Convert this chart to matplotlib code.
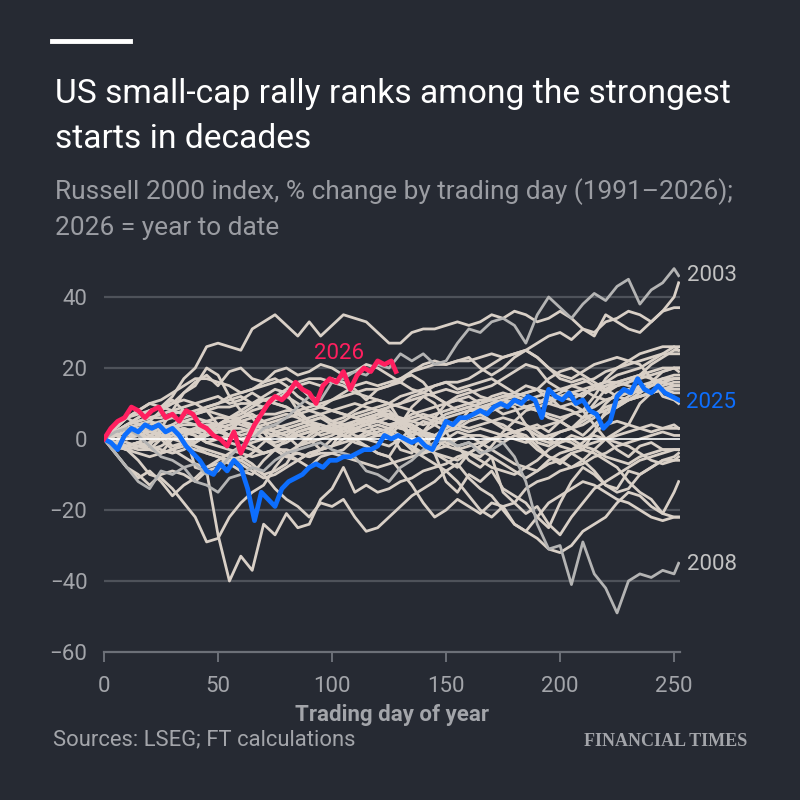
import matplotlib
matplotlib.use("Agg")
import matplotlib.pyplot as plt
from matplotlib.lines import Line2D

# trading-day grid for the background years (every 5 days + last day)
days5 = list(range(0, 251, 5)) + [252]

# Russell 2000, % change YTD (approximate)
y1991 = [0, 2, 4, 6, 8, 9, 12, 17, 20, 26,
         27, 26, 25, 31, 33, 35, 32, 29, 33, 29,
         32, 35, 34, 33, 30, 27, 27, 30, 31, 31,
         32, 33, 32, 33, 35, 34, 36, 35, 33, 34,
         36, 34, 31, 29, 35, 33, 31, 30, 33, 36,
         40, 44]
y1992 = [0, 3, 6, 7, 8, 9, 10, 11, 10, 8,
         7, 6, 5, 4, 3, 2, 1, 3, 4, 3,
         2, 3, 1, 0, -1, -2, 0, 1, 2, 0,
         -2, -3, -2, -1, 0, -1, 1, 0, 0, 1,
         2, 3, 1, 4, 7, 9, 11, 12, 13, 15,
         16, 16]
y1993 = [0, 1, 2, 3, 3, 4, 2, 0, -1, 1,
         2, 3, 3, 2, 0, -1, 0, 1, 2, 3,
         3, 4, 3, 4, 5, 4, 5, 5, 6, 7,
         8, 9, 10, 11, 11, 12, 12, 13, 14, 13,
         14, 15, 14, 12, 11, 12, 13, 15, 16, 17,
         17, 17]
y1994 = [0, 1, 2, 3, 3, 4, 3, 2, 1, -1,
         -2, -3, -4, -5, -4, -3, -3, -4, -5, -4,
         -4, -5, -6, -7, -8, -7, -6, -5, -4, -3,
         -2, 0, 1, 1, 0, 1, 0, -1, 0, -1,
         -1, 0, -2, -3, -5, -6, -7, -5, -4, -3,
         -3, -3]
y1995 = [0, 0, -1, -2, -1, 0, 1, 2, 3, 4,
         4, 5, 5, 6, 7, 7, 8, 8, 9, 10,
         11, 12, 13, 14, 14, 15, 17, 19, 20, 21,
         21, 22, 22, 23, 24, 23, 24, 25, 23, 20,
         18, 17, 19, 21, 22, 23, 22, 24, 25, 26,
         26, 26]
y1996 = [0, -1, -2, -1, 1, 2, 3, 4, 4, 5,
         6, 6, 7, 9, 11, 12, 14, 16, 17, 17,
         16, 15, 13, 12, 11, 10, 5, 1, -2, 1,
         3, 5, 6, 7, 8, 9, 10, 9, 8, 7,
         6, 7, 8, 9, 11, 12, 11, 12, 13, 14,
         15, 15]
y1997 = [0, 1, 2, 3, 2, 1, 0, -1, -2, -3,
         -4, -5, -6, -8, -10, -9, -7, -2, 1, 3,
         4, 5, 7, 8, 9, 10, 12, 13, 14, 15,
         16, 16, 17, 19, 21, 23, 24, 25, 23, 20,
         17, 16, 17, 15, 14, 16, 17, 18, 19, 20,
         20, 20]
y1998 = [0, -2, -3, -2, -1, 2, 4, 6, 7, 8,
         9, 9, 10, 10, 11, 10, 9, 7, 5, 4,
         3, 2, 3, 2, 1, 2, 0, -3, -5, -7,
         -9, -12, -16, -20, -22, -19, -18, -21, -19, -24,
         -27, -22, -18, -14, -12, -10, -8, -6, -5, -4,
         -3, -3]
y1999 = [0, 1, 2, 3, 1, 0, -3, -5, -7, -8,
         -7, -6, -6, -4, -1, 2, 3, 4, 5, 6,
         5, 6, 8, 10, 11, 10, 9, 8, 6, 5,
         4, 3, 2, 3, 2, 1, 2, 3, 1, 0,
         2, 3, 5, 7, 8, 9, 11, 13, 16, 19,
         20, 20]
y2000 = [0, -3, -2, -1, -2, 3, 8, 13, 15, 20,
         18, 12, 8, 6, 2, -2, -4, -6, -8, -5,
         -4, -3, 0, 2, 3, 2, 0, -3, -4, -1,
         2, 3, 5, 6, 5, 4, 2, 1, -2, -5,
         -7, -4, -6, -9, -13, -15, -14, -10, -8, -6,
         -5, -4]
y2001 = [0, 2, 3, 4, 5, 4, 2, 0, -2, -4,
         -5, -7, -9, -10, -6, -3, 0, 2, 3, 3,
         4, 3, 4, 5, 5, 4, 3, 2, 1, 0,
         -1, -2, -1, -3, -5, -15, -18, -14, -12, -11,
         -9, -8, -7, -5, -4, -2, -1, 0, 1, 2,
         1, 1]
y2002 = [0, -1, -2, -1, -2, -3, -4, -3, -1, 1,
         3, 4, 5, 4, 5, 6, 7, 6, 4, 3,
         2, 1, 0, -2, -4, -5, -9, -13, -18, -22,
         -20, -17, -19, -21, -18, -19, -24, -26, -28, -31,
         -32, -30, -26, -24, -22, -18, -15, -16, -19, -21,
         -22, -22]
y2003 = [0, 2, 3, 1, -2, -5, -6, -8, -7, -10,
         -9, -5, -2, 0, 3, 4, 6, 9, 12, 11,
         16, 17, 19, 18, 21, 20, 24, 22, 24, 21,
         22, 27, 31, 30, 33, 34, 32, 27, 35, 40,
         37, 34, 38, 41, 39, 43, 45, 38, 42, 44,
         48, 46]
y2004 = [0, 2, 3, 4, 4, 5, 6, 5, 6, 5,
         4, 6, 6, 7, 5, 2, 1, -2, -1, 0,
         1, 3, 4, 5, 6, 7, 4, 0, -2, -4,
         -5, -6, -4, -2, 0, 1, 2, 3, 3, 4,
         5, 3, 4, 6, 10, 13, 14, 13, 15, 16,
         17, 17]
y2005 = [0, -2, -3, -4, -5, -4, -3, -2, -3, -4,
         -5, -6, -7, -9, -11, -10, -8, -6, -4, -3,
         -2, -1, 0, 1, 2, 3, 5, 6, 7, 6,
         5, 4, 3, 4, 5, 6, 5, 4, 2, 0,
         -2, -3, -1, 2, 4, 5, 4, 3, 4, 3,
         3, 3]
y2006 = [0, 2, 4, 6, 8, 9, 8, 7, 8, 9,
         10, 12, 13, 14, 15, 16, 17, 15, 12, 9,
         8, 7, 6, 5, 7, 8, 5, 3, 2, 4,
         6, 7, 8, 8, 9, 7, 8, 9, 10, 11,
         12, 13, 14, 15, 16, 16, 17, 18, 17, 16,
         17, 17]
y2007 = [0, 1, 2, 1, 2, 3, 4, 2, 1, -1,
         0, 1, 2, 3, 4, 5, 6, 7, 8, 9,
         8, 7, 6, 7, 8, 6, 5, 3, 0, -4,
         -6, -8, -4, -2, 0, 1, 2, 3, 4, 2,
         5, 7, 8, 4, 0, -3, -5, -2, -1, -3,
         -3, -3]
y2008 = [0, -4, -8, -12, -14, -9, -10, -8, -12, -13,
         -15, -11, -10, -8, -9, -6, -4, -3, -2, -1,
         -3, -4, -5, -9, -10, -12, -8, -6, -3, -1,
         0, -2, -1, -4, -3, -1, -5, -12, -24, -31,
         -30, -41, -29, -38, -42, -49, -40, -38, -39, -37,
         -38, -35]
y2009 = [0, 2, -3, -6, -10, -11, -14, -18, -22, -29,
         -28, -22, -18, -15, -13, -8, -4, -2, 0, -3,
         0, 1, 3, 2, 1, 2, -3, -4, 2, 6,
         10, 12, 13, 14, 15, 17, 19, 21, 20, 16,
         14, 13, 12, 15, 13, 15, 16, 18, 21, 23,
         25, 25]
y2010 = [0, 2, 3, 1, -2, -4, -3, -1, 0, 2,
         4, 6, 8, 10, 12, 14, 13, 8, 5, 6,
         4, 1, -1, -2, -4, -5, 0, 3, 5, 4,
         2, -3, -4, -5, -2, 2, 5, 8, 9, 10,
         12, 13, 12, 15, 16, 18, 19, 20, 22, 24,
         26, 25]
y2011 = [0, 1, 0, 2, 0, 1, 3, 5, 4, 2,
         3, 1, 6, 8, 9, 11, 12, 10, 8, 7,
         5, 4, 2, 5, 7, 6, 5, 4, 2, -4,
         -12, -15, -10, -12, -9, -14, -16, -18, -22, -25,
         -18, -12, -8, -10, -13, -14, -9, -10, -8, -6,
         -6, -5]
y2012 = [0, 2, 4, 5, 6, 7, 8, 9, 10, 11,
         12, 10, 11, 13, 11, 10, 9, 7, 5, 3,
         2, 3, 4, 6, 7, 7, 6, 5, 4, 5,
         7, 8, 9, 10, 11, 12, 13, 12, 11, 10,
         9, 8, 6, 7, 9, 10, 11, 12, 13, 14,
         15, 15]
y2013 = [0, 2, 4, 5, 6, 6, 7, 8, 7, 9,
         10, 11, 12, 10, 9, 11, 13, 15, 16, 15,
         17, 16, 14, 11, 14, 15, 16, 19, 21, 22,
         21, 22, 23, 20, 18, 20, 23, 25, 27, 29,
         30, 28, 31, 30, 33, 34, 36, 35, 33, 36,
         37, 37]
y2014 = [0, -1, -2, -3, -3, -2, 0, 2, 3, 2,
         3, 1, 0, -2, -4, -3, -5, -6, -4, -3,
         -2, 0, 2, 3, 4, 3, 1, -2, -4, -3,
         0, 2, 1, -1, -3, -5, -7, -8, -6, -3,
         -1, 1, 0, 1, 0, 1, 2, 3, 2, 3,
         4, 3]
y2015 = [0, -2, -3, -2, -3, 0, 2, 3, 2, 3,
         4, 5, 4, 3, 2, 1, 2, 3, 4, 4,
         3, 4, 5, 6, 5, 4, 3, 4, 2, 1,
         0, -2, -6, -8, -5, -7, -9, -11, -9, -6,
         -4, -3, -2, -1, 0, -1, -2, -4, -6, -7,
         -6, -6]
y2016 = [0, -4, -8, -11, -9, -12, -16, -13, -11, -8,
         -6, -4, -2, -1, 0, 1, 0, 2, 3, 1,
         2, 3, 4, 5, 1, 2, 5, 7, 8, 9,
         10, 11, 10, 9, 10, 11, 10, 9, 8, 6,
         5, 3, 6, 10, 14, 15, 16, 17, 18, 19,
         20, 19]
y2017 = [0, 1, 0, 1, 0, 1, 2, 3, 2, 1,
         2, 3, 1, 2, 3, 4, 3, 1, 0, 2,
         3, 4, 3, 4, 5, 6, 5, 4, 2, 1,
         2, 4, 6, 8, 10, 11, 12, 11, 12, 13,
         12, 11, 13, 14, 15, 16, 15, 14, 13, 14,
         13, 13]
y2018 = [0, 2, 3, 4, 3, 1, -2, -1, 0, 1,
         2, 1, 0, 1, 2, 3, 4, 5, 6, 7,
         8, 9, 10, 9, 8, 9, 10, 11, 12, 13,
         14, 13, 14, 12, 11, 10, 9, 4, -1, -2,
         0, -1, -3, -4, -6, -8, -12, -15, -17, -21,
         -15, -12]
y2019 = [0, 4, 6, 8, 10, 11, 13, 15, 17, 17,
         16, 15, 13, 14, 16, 17, 15, 12, 10, 9,
         11, 13, 15, 16, 15, 16, 17, 18, 16, 12,
         10, 11, 12, 10, 12, 13, 12, 13, 14, 11,
         13, 15, 16, 17, 19, 20, 21, 22, 23, 24,
         24, 24]
y2020 = [0, -1, 1, 2, 0, 1, 2, 3, -8, -9,
         -27, -40, -33, -37, -24, -27, -21, -25, -24, -17,
         -14, -8, -15, -13, -15, -14, -12, -11, -9, -8,
         -7, -5, -4, -6, -8, -9, -10, -8, -9, -7,
         -6, -4, -3, 2, 8, 10, 12, 14, 15, 17,
         18, 18]
y2021 = [0, 3, 6, 4, 5, 8, 10, 13, 16, 18,
         15, 19, 20, 17, 16, 19, 20, 18, 19, 21,
         20, 18, 19, 21, 20, 18, 16, 14, 13, 15,
         16, 14, 15, 16, 17, 15, 13, 15, 14, 17,
         19, 20, 18, 16, 14, 12, 13, 15, 13, 14,
         14, 14]
y2022 = [0, -4, -8, -10, -13, -10, -9, -10, -12, -9,
         -8, -6, -5, -7, -10, -14, -17, -19, -22, -18,
         -19, -17, -22, -26, -25, -22, -19, -16, -14, -12,
         -9, -7, -11, -14, -16, -20, -24, -26, -22, -18,
         -16, -14, -12, -13, -15, -17, -18, -20, -22, -23,
         -22, -22]
y2023 = [0, 3, 6, 8, 10, 9, 11, 8, 7, 8,
         4, -1, -2, -3, -4, -3, -5, -4, -5, -3,
         -2, 3, 5, 6, 7, 9, 10, 12, 13, 12,
         10, 8, 9, 7, 5, 3, 2, 0, -3, -5,
         -6, -8, -6, -3, 0, 2, 4, 10, 13, 16,
         15, 15]
y2024 = [0, -3, -2, -1, -3, -4, 0, 1, 2, 3,
         4, 3, 5, 3, 0, -2, -1, 1, 2, 3,
         2, 1, 0, 0, 1, 1, 4, 9, 12, 10,
         5, 4, 8, 9, 8, 10, 11, 9, 10, 12,
         9, 10, 8, 12, 17, 20, 22, 21, 17, 12,
         11, 10]

background = [y1991, y1992, y1993, y1994, y1995, y1996, y1997, y1998, y1999,
              y2000, y2001, y2002, y2004, y2005, y2006, y2007, y2009, y2010,
              y2011, y2012, y2013, y2014, y2015, y2016, y2017, y2018, y2019,
              y2020, y2021, y2022, y2023, y2024]

# highlighted years, every 3 trading days
days2025 = list(range(0, 253, 3))
y2025 = [0, -1, -3, 1, 3, 2, 4, 3, 4, 2,
         3, 1, -2, -4, -6, -9, -10, -7, -9, -6,
         -8, -14, -23, -15, -17, -19, -14, -12, -11, -10,
         -8, -7, -8, -6, -6, -5, -5, -4, -3, -3,
         -2, 1, 0, 1, 0, -1, 0, -2, -3, 1,
         5, 4, 6, 6, 7, 8, 7, 9, 10, 9,
         11, 10, 12, 11, 6, 14, 12, 11, 13, 10,
         11, 8, 7, 3, 5, 12, 14, 13, 17, 14,
         13, 15, 13, 12, 11]
days2026 = list(range(0, 127, 3)) + [128]
y2026 = [0, 3, 5, 6, 9, 8, 6, 8, 9, 6,
         7, 5, 8, 7, 4, 3, 1, 0, -2, 2,
         -4, 0, 4, 7, 10, 12, 11, 13, 16, 14,
         13, 10, 15, 17, 16, 19, 14, 18, 20, 19,
         22, 21, 22, 19]

BG = "#262a33"
BEIGE = "#d9d0c7"
GREY = "#b4b4b4"
PINK = "#ff1f5f"
BLUE = "#0d6efd"
GRID = "#4e525a"
AXIS = "#6c7078"
TXT = "#a3a5aa"
plt.rcParams["font.family"] = ["Roboto", "DejaVu Sans"]

fig = plt.figure(figsize=(8, 8), dpi=100, facecolor=BG)
ax = fig.add_axes([104 / 800, 1 - 652 / 800, 576 / 800, 390.5 / 800])
ax.set_facecolor(BG)
ax.set_xlim(0, 252.6)
ax.set_ylim(-60, 50)

for v in [-40, -20, 20, 40]:
    ax.axhline(v, color=GRID, lw=1.6, zorder=0)

for ys in background:
    ax.plot(days5, ys, color=BEIGE, lw=2.0, zorder=2)
ax.plot(days5, y2003, color=GREY, lw=2.0, zorder=3)
ax.plot(days5, y2008, color=GREY, lw=2.0, zorder=3)
ax.axhline(0, color="white", lw=1.2, zorder=4)
ax.plot(days2025, y2025, color=BLUE, lw=3.4, zorder=5)
ax.plot(days2026, y2026, color=PINK, lw=3.4, zorder=6)

# line labels
ax.annotate("2003", (days5[-1], y2003[-1]), xytext=(6, 0), textcoords="offset points",
            color="#c2c2c2", fontsize=16, va="center")
ax.annotate("2008", (days5[-1], y2008[-1]), xytext=(6, -1), textcoords="offset points",
            color="#c2c2c2", fontsize=16, va="center")
ax.annotate("2025", (days2025[-1], y2025[-1]), xytext=(5, -2), textcoords="offset points",
            color=BLUE, fontsize=16, va="center")
ax.text(103, 24, "2026", color=PINK, fontsize=16, ha="center", va="center")

# axes styling
for s in ["left", "right", "top"]:
    ax.spines[s].set_visible(False)
ax.spines["bottom"].set_color(AXIS)
ax.spines["bottom"].set_linewidth(1.6)
ax.set_xticks([0, 50, 100, 150, 200, 250])
ax.set_yticks([-60, -40, -20, 0, 20, 40])
ax.tick_params(axis="x", colors=AXIS, length=7, width=1.4, direction="out",
               labelcolor=TXT, labelsize=16, pad=10)
ax.tick_params(axis="y", length=0, labelcolor=TXT, labelsize=16, pad=12)
fig.text(392 / 800, 1 - 715 / 800, "Trading day of year", color=TXT, fontsize=16,
         fontweight="bold", ha="center", va="center")

# header / footer
fig.add_artist(Line2D([52 / 800, 130 / 800], [1 - 41 / 800] * 2, color="white", lw=3.5))
t1 = fig.text(55 / 800, 1 - 103 / 800, "US small-cap rally ranks among the strongest",
              color="white", fontsize=23, va="baseline")
t2 = fig.text(55 / 800, 1 - 148 / 800, "starts in decades", color="white", fontsize=23,
              va="baseline")
s1 = fig.text(55 / 800, 1 - 199 / 800, "Russell 2000 index, % change by trading day (1991\u20132026);",
              color="#9b9da3", fontsize=16, va="baseline")
s2 = fig.text(55 / 800, 1 - 235 / 800, "2026 = year to date", color="#9b9da3", fontsize=16,
              va="baseline")
fig.text(53 / 800, 1 - 740 / 800, "Sources: LSEG; FT calculations", color=TXT,
         fontsize=15.8, va="center")
fig.text(747 / 800, 1 - 741 / 800, "FINANCIAL TIMES", color=TXT, fontsize=13,
         va="center", ha="right", family="Liberation Serif", fontweight="bold")

# scale header text to the widths seen in the reference
fig.canvas.draw()
r = fig.canvas.get_renderer()
for main, other, target in [(t1, t2, 678), (s1, s2, 680)]:
    w = main.get_window_extent(r).width
    size = main.get_fontsize() * target / w
    main.set_fontsize(size)
    other.set_fontsize(size)

fig.savefig("out.png", dpi=100, facecolor=BG)
